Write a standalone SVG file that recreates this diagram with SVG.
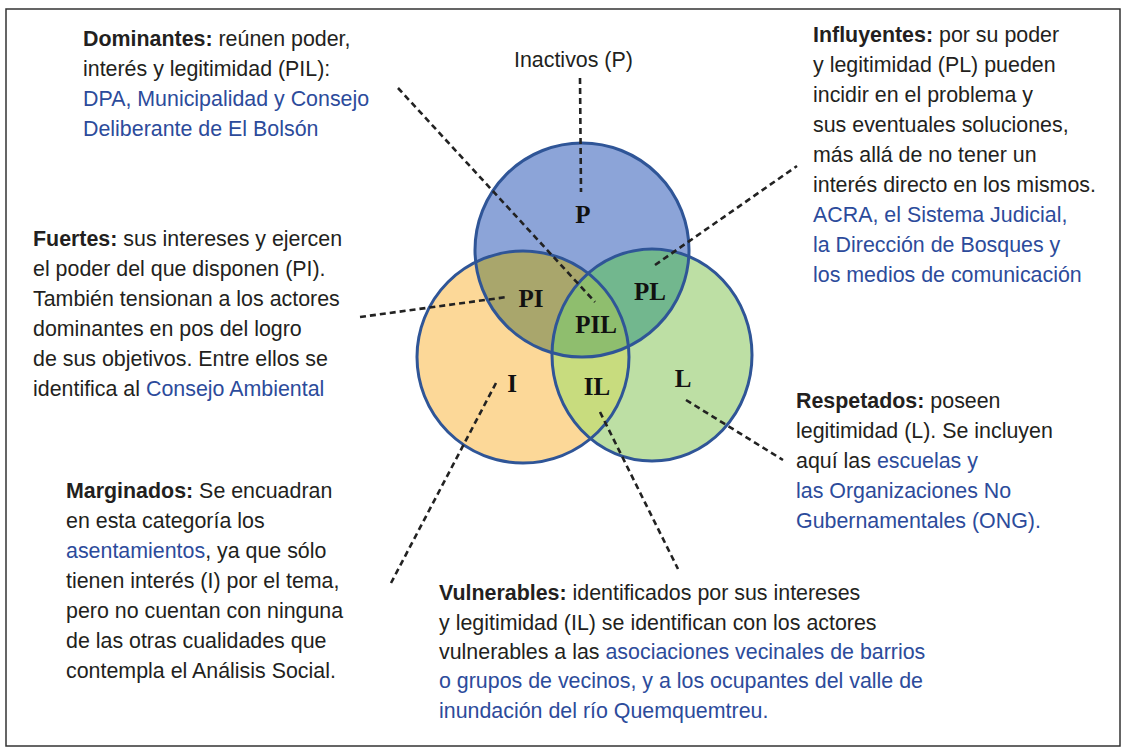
<svg xmlns="http://www.w3.org/2000/svg" width="1126" height="753" viewBox="0 0 1126 753">
<defs>
<style>
.t{font-family:"Liberation Sans",Arial,sans-serif;font-size:21.4px;fill:#231f20}
.b{font-weight:bold}
.u{fill:#2c4b9b}
.lab{font-family:"Liberation Serif","Times New Roman",serif;font-weight:bold;font-size:25px;fill:#111;text-anchor:middle}
.ring{fill:none;stroke:#2f5597;stroke-width:3}
.dash{stroke:#222;stroke-width:2.6;stroke-dasharray:6 4;fill:none}
</style>
<clipPath id="cP"><circle cx="582" cy="250" r="107"/></clipPath>
<clipPath id="cI"><circle cx="523" cy="357" r="106"/></clipPath>
<clipPath id="cL"><ellipse cx="652" cy="355" rx="100" ry="106"/></clipPath>
</defs>
<rect x="0" y="0" width="1126" height="753" fill="#ffffff"/>
<rect x="6" y="9" width="1114" height="737" fill="none" stroke="#333" stroke-width="1.5"/>

<g id="venn">
<circle cx="582" cy="250" r="107" fill="#8ca4d8"/>
<circle cx="523" cy="357" r="106" fill="#fcd898"/>
<ellipse cx="652" cy="355" rx="100" ry="106" fill="#bddfa4"/>
<circle cx="523" cy="357" r="106" fill="#a9a66c" clip-path="url(#cP)"/>
<ellipse cx="652" cy="355" rx="100" ry="106" fill="#72b78e" clip-path="url(#cP)"/>
<ellipse cx="652" cy="355" rx="100" ry="106" fill="#c8dc7e" clip-path="url(#cI)"/>
<g clip-path="url(#cP)"><ellipse cx="652" cy="355" rx="100" ry="106" fill="#8fbe6e" clip-path="url(#cI)"/></g>
<circle class="ring" cx="582" cy="250" r="107"/>
<circle class="ring" cx="523" cy="357" r="106"/>
<ellipse class="ring" cx="652" cy="355" rx="100" ry="106"/>
<text class="lab" x="583" y="223">P</text>
<text class="lab" x="531" y="307">PI</text>
<text class="lab" x="650" y="300">PL</text>
<text class="lab" x="596" y="333">PIL</text>
<text class="lab" x="512" y="392">I</text>
<text class="lab" x="597" y="395">IL</text>
<text class="lab" x="683" y="387">L</text>
</g>

<g id="connectors">
<line class="dash" x1="398" y1="88" x2="595" y2="302"/>
<line class="dash" x1="580" y1="78" x2="581" y2="192"/>
<line class="dash" x1="655" y1="265" x2="797" y2="166"/>
<line class="dash" x1="360" y1="317" x2="507" y2="297"/>
<line class="dash" x1="496" y1="383" x2="391" y2="583"/>
<line class="dash" x1="600" y1="412" x2="678" y2="569"/>
<line class="dash" x1="686" y1="400" x2="783" y2="460"/>
</g>

<g id="inactivos">
<text class="t" x="514" y="67">Inactivos (P)</text>
</g>

<g id="dominantes">
<text class="t" x="83" y="46"><tspan class="b">Dominantes:</tspan> reúnen poder,</text>
<text class="t" x="83" y="76">interés y legitimidad (PIL):</text>
<text class="t u" x="83" y="106">DPA, Municipalidad y Consejo</text>
<text class="t u" x="83" y="136">Deliberante de El Bolsón</text>
</g>

<g id="influyentes">
<text class="t" x="813" y="42"><tspan class="b">Influyentes:</tspan> por su poder</text>
<text class="t" x="813" y="72">y legitimidad (PL) pueden</text>
<text class="t" x="813" y="102">incidir en el problema y</text>
<text class="t" x="813" y="132">sus eventuales soluciones,</text>
<text class="t" x="813" y="162">más allá de no tener un</text>
<text class="t" x="813" y="192">interés directo en los mismos.</text>
<text class="t u" x="813" y="222">ACRA, el Sistema Judicial,</text>
<text class="t u" x="813" y="252">la Dirección de Bosques y</text>
<text class="t u" x="813" y="282">los medios de comunicación</text>
</g>

<g id="fuertes">
<text class="t" x="33" y="246"><tspan class="b">Fuertes:</tspan> sus intereses y ejercen</text>
<text class="t" x="33" y="276">el poder del que disponen (PI).</text>
<text class="t" x="33" y="306">También tensionan a los actores</text>
<text class="t" x="33" y="336">dominantes en pos del logro</text>
<text class="t" x="33" y="366">de sus objetivos. Entre ellos se</text>
<text class="t" x="33" y="396">identifica al <tspan class="u">Consejo Ambiental</tspan></text>
</g>

<g id="marginados">
<text class="t" x="66" y="498"><tspan class="b">Marginados:</tspan> Se encuadran</text>
<text class="t" x="66" y="528">en esta categoría los</text>
<text class="t" x="66" y="558"><tspan class="u">asentamientos</tspan>, ya que sólo</text>
<text class="t" x="66" y="588">tienen interés (I) por el tema,</text>
<text class="t" x="66" y="618">pero no cuentan con ninguna</text>
<text class="t" x="66" y="648">de las otras cualidades que</text>
<text class="t" x="66" y="678">contempla el Análisis Social.</text>
</g>

<g id="respetados">
<text class="t" x="796" y="408"><tspan class="b">Respetados:</tspan> poseen</text>
<text class="t" x="796" y="438">legitimidad (L). Se incluyen</text>
<text class="t" x="796" y="468">aquí las <tspan class="u">escuelas y</tspan></text>
<text class="t u" x="796" y="498">las Organizaciones No</text>
<text class="t u" x="796" y="528">Gubernamentales (ONG).</text>
</g>

<g id="vulnerables">
<text class="t" x="439" y="600"><tspan class="b">Vulnerables:</tspan> identificados por sus intereses</text>
<text class="t" x="439" y="630">y legitimidad (IL) se identifican con los actores</text>
<text class="t" x="439" y="659">vulnerables a las <tspan class="u">asociaciones vecinales de barrios</tspan></text>
<text class="t u" x="439" y="688">o grupos de vecinos, y a los ocupantes del valle de</text>
<text class="t u" x="439" y="718">inundación del río Quemquemtreu.</text>
</g>
</svg>
